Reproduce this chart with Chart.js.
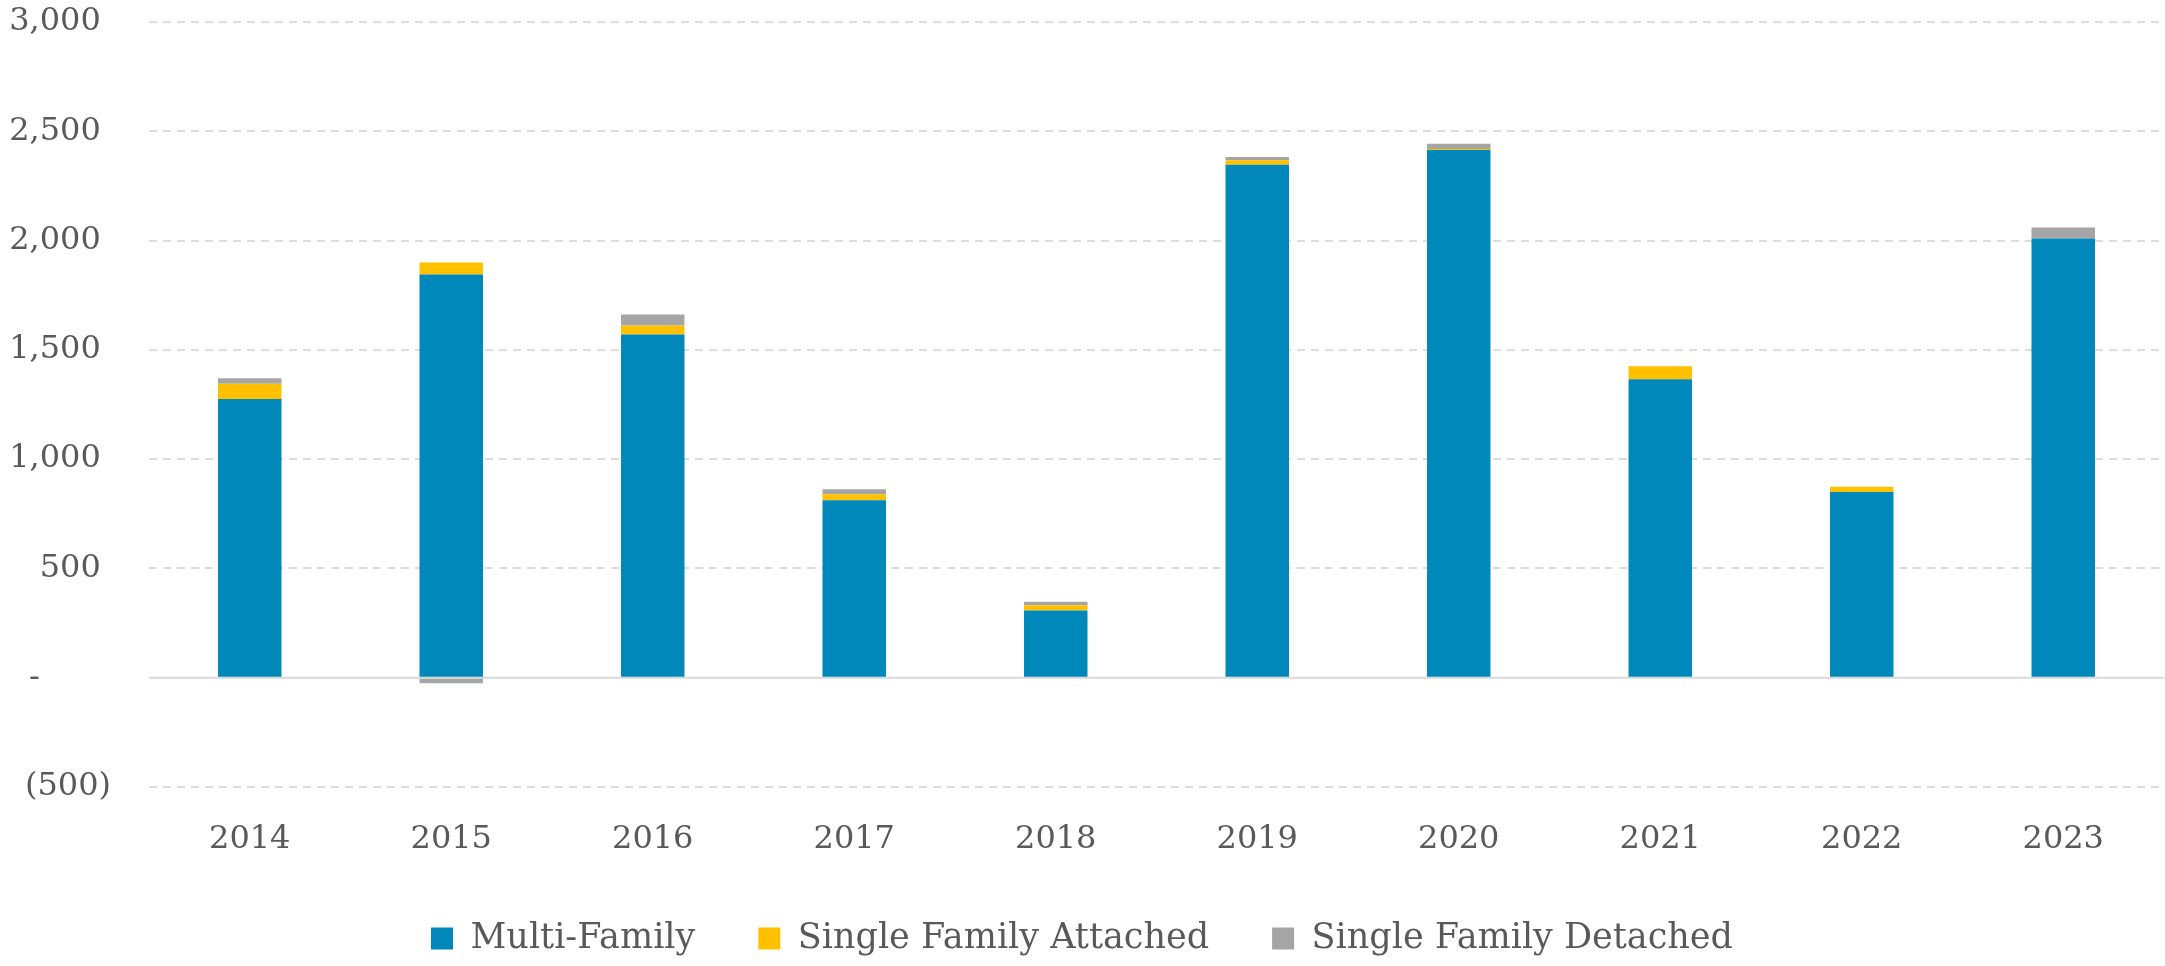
<!DOCTYPE html>
<html>
<head>
<meta charset="utf-8">
<script src="https://cdn.jsdelivr.net/npm/chart.js@4"></script>
<style>
  html, body { margin: 0; padding: 0; background: #fff; }
  #wrap { width: 2165px; height: 966px; position: relative; }
</style>
</head>
<body>
<div id="wrap"><canvas id="c"></canvas></div>
<script>
const categories = ['2014', '2015', '2016', '2017', '2018', '2019', '2020', '2021', '2022', '2023'];
const multiFamily = [1275, 1845, 1570, 812, 308, 2347, 2414, 1365, 850, 2010];
const singleFamilyAttached = [70, 55, 42, 27, 24, 20, 5, 60, 24, 0];
const singleFamilyDetached = [25, -25, 50, 23, 16, 15, 24, 0, 0, 50];
const seriesNames = ['Multi-Family', 'Single Family Attached', 'Single Family Detached'];
const yMin = -500, yMax = 3000, yStep = 500;

const textColor = '#595959';
const fontFamily = "'DejaVu Serif', serif";

const zeroLine = {
  id: 'zeroLine',
  beforeDatasetsDraw(chart) {
    const y = chart.scales.y.getPixelForValue(0);
    const {left, right} = chart.chartArea;
    const ctx = chart.ctx;
    ctx.save();
    ctx.strokeStyle = '#D9D9D9';
    ctx.lineWidth = 2;
    ctx.beginPath();
    ctx.moveTo(left, y);
    ctx.lineTo(right, y);
    ctx.stroke();
    ctx.restore();
  }
};

new Chart(document.getElementById('c'), {
  type: 'bar',
  data: {
    labels: categories,
    datasets: [
      { label: seriesNames[0], data: multiFamily, backgroundColor: '#0088BA' },
      { label: seriesNames[1], data: singleFamilyAttached, backgroundColor: '#FFC000' },
      { label: seriesNames[2], data: singleFamilyDetached, backgroundColor: '#A5A5A5' }
    ]
  },
  options: {
    responsive: true,
    maintainAspectRatio: false,
    animation: false,
    layout: { padding: { top: 0, right: 1, left: 0, bottom: 0 } },
    datasets: { bar: { categoryPercentage: 1, barPercentage: 0.315 } },
    plugins: {
      tooltip: { enabled: false },
      legend: {
        position: 'bottom',
        labels: {
          color: textColor,
          font: { family: fontFamily, size: 35 },
          boxWidth: 22,
          boxHeight: 22,
          padding: 63
        }
      }
    },
    scales: {
      x: {
        stacked: true,
        grid: { display: false, drawTicks: false },
        border: { display: false },
        ticks: { color: textColor, font: { family: fontFamily, size: 32 }, padding: 33 },
        afterFit(scale) { scale.height = 71; }
      },
      y: {
        stacked: true,
        min: yMin,
        max: yMax,
        grid: {
          drawTicks: false,
          lineWidth: 2,
          color: (ctx) => (ctx.tick && ctx.tick.value === 0) ? 'rgba(0,0,0,0)' : '#DCDCDC'
        },
        border: { display: false, dash: [8, 6] },
        ticks: {
          stepSize: yStep,
          color: textColor,
          font: { family: fontFamily, size: 32 },
          padding: 38,
          callback: (v) => {
            if (v === 0) return '-       ';
            if (v < 0) return '(' + Math.abs(v).toLocaleString('en-US') + ')';
            return v.toLocaleString('en-US') + ' ';
          }
        },
        afterFit(scale) {
          scale.width = 149;
          scale.paddingTop = 22;
          scale.paddingBottom = 10;
        }
      }
    }
  },
  plugins: [zeroLine]
});
</script>
</body>
</html>
